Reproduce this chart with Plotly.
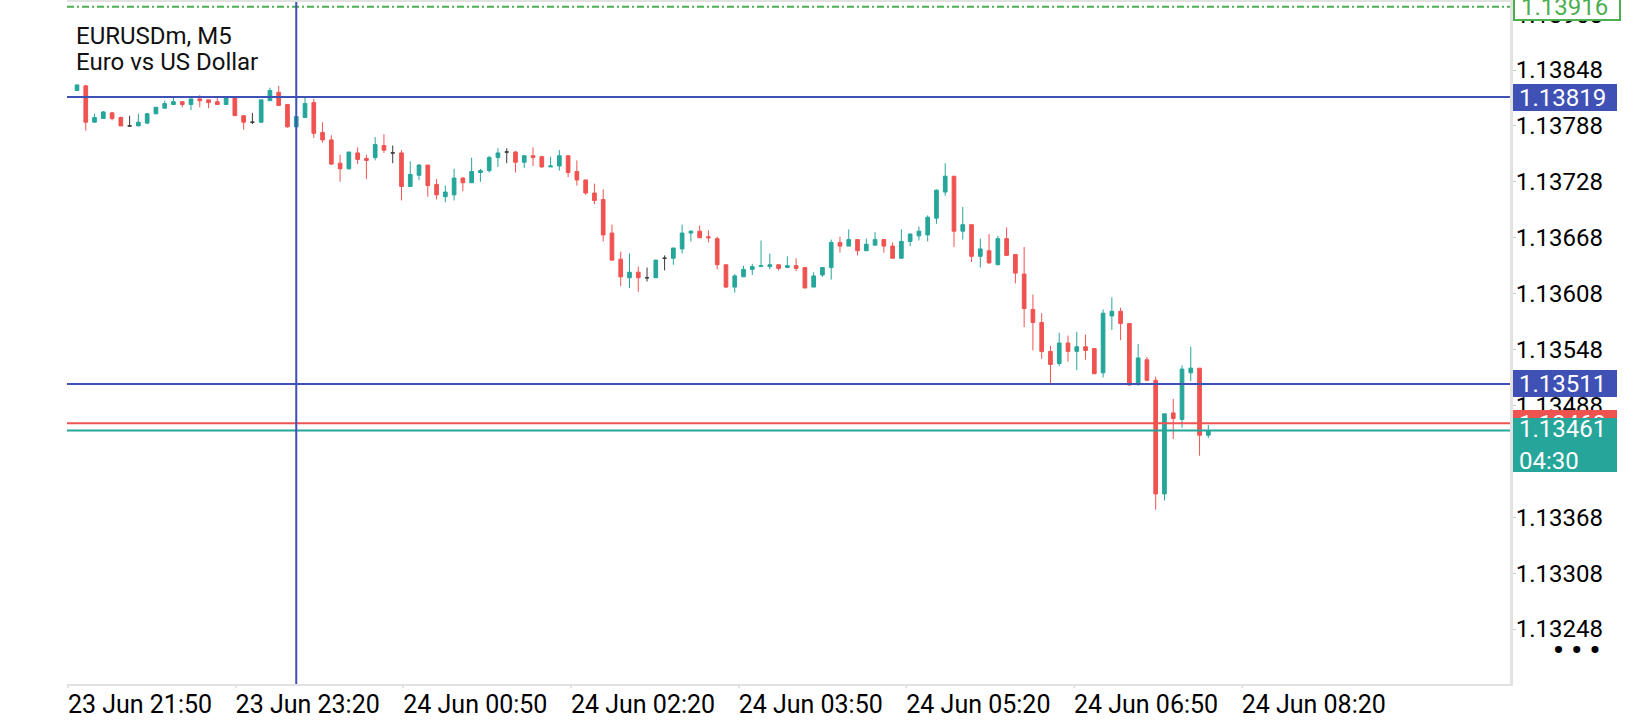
import plotly.graph_objects as go

# ---------------------------------------------------------------------------
# EURUSDm M5 chart (MT5 mobile look)

symbol = "EURUSDm, M5"
description = "Euro vs US Dollar"

open_ = [
    1.13826, 1.13831, 1.13792, 1.13796, 1.13802, 1.13797, 1.13788, 1.13788, 1.13791, 1.13801,
    1.13807, 1.13811, 1.13814, 1.13811, 1.13817, 1.13816, 1.13814, 1.13811, 1.13818, 1.13799,
    1.13792, 1.13792, 1.13815, 1.13824, 1.13811, 1.13787, 1.13797, 1.13813, 1.13781, 1.13773,
    1.13748, 1.13742, 1.13759, 1.13753, 1.13754, 1.13767, 1.13759, 1.13759, 1.13723, 1.13735,
    1.13746, 1.13725, 1.13712, 1.13714, 1.13732, 1.13727, 1.13738, 1.13740, 1.13754, 1.13760,
    1.13760, 1.13749, 1.13756, 1.13755, 1.13744, 1.13745, 1.13756, 1.13739, 1.13730, 1.13716,
    1.13709, 1.13673, 1.13645, 1.13625, 1.13631, 1.13625, 1.13625, 1.13646, 1.13646, 1.13656,
    1.13673, 1.13675, 1.13669, 1.13667, 1.13639, 1.13615, 1.13626, 1.13634, 1.13637, 1.13637,
    1.13639, 1.13636, 1.13638, 1.13636, 1.13615, 1.13628, 1.13636, 1.13663, 1.13659, 1.13666,
    1.13654, 1.13660, 1.13666, 1.13659, 1.13646, 1.13664, 1.13670, 1.13671, 1.13689, 1.13717,
    1.13734, 1.13675, 1.13682, 1.13648, 1.13654, 1.13639, 1.13667, 1.13650, 1.13629, 1.13591,
    1.13577, 1.13546, 1.13533, 1.13555, 1.13546, 1.13551, 1.13549, 1.13523, 1.13584, 1.13589,
    1.13576, 1.13511, 1.13537, 1.13515, 1.13393, 1.13480, 1.13473, 1.13523, 1.13528, 1.13456,
]
high = [
    1.13832, 1.13832, 1.13801, 1.13804, 1.13803, 1.13798, 1.13799, 1.13801, 1.13802, 1.13808,
    1.13815, 1.13819, 1.13814, 1.13817, 1.13821, 1.13816, 1.13819, 1.13819, 1.13818, 1.13799,
    1.13802, 1.13816, 1.13829, 1.13831, 1.13811, 1.13798, 1.13818, 1.13817, 1.13792, 1.13778,
    1.13757, 1.13760, 1.13765, 1.13757, 1.13776, 1.13779, 1.13767, 1.13762, 1.13750, 1.13747,
    1.13746, 1.13731, 1.13724, 1.13742, 1.13733, 1.13754, 1.13742, 1.13756, 1.13764, 1.13764,
    1.13761, 1.13756, 1.13765, 1.13756, 1.13755, 1.13762, 1.13756, 1.13751, 1.13730, 1.13726,
    1.13720, 1.13682, 1.13653, 1.13651, 1.13637, 1.13636, 1.13644, 1.13649, 1.13657, 1.13682,
    1.13676, 1.13681, 1.13676, 1.13669, 1.13639, 1.13629, 1.13638, 1.13640, 1.13665, 1.13651,
    1.13639, 1.13648, 1.13646, 1.13636, 1.13631, 1.13636, 1.13666, 1.13669, 1.13677, 1.13666,
    1.13667, 1.13674, 1.13666, 1.13663, 1.13677, 1.13672, 1.13680, 1.13692, 1.13720, 1.13748,
    1.13734, 1.13701, 1.13682, 1.13667, 1.13672, 1.13670, 1.13679, 1.13650, 1.13658, 1.13607,
    1.13587, 1.13552, 1.13566, 1.13563, 1.13567, 1.13564, 1.13549, 1.13591, 1.13604, 1.13593,
    1.13576, 1.13554, 1.13540, 1.13519, 1.13479, 1.13495, 1.13531, 1.13551, 1.13528, 1.13467,
]
low = [
    1.13826, 1.13783, 1.13792, 1.13796, 1.13794, 1.13788, 1.13787, 1.13788, 1.13790, 1.13801,
    1.13807, 1.13811, 1.13808, 1.13805, 1.13808, 1.13807, 1.13811, 1.13811, 1.13799, 1.13784,
    1.13790, 1.13791, 1.13815, 1.13810, 1.13786, 1.13787, 1.13797, 1.13775, 1.13770, 1.13746,
    1.13728, 1.13741, 1.13747, 1.13731, 1.13751, 1.13759, 1.13748, 1.13708, 1.13723, 1.13730,
    1.13712, 1.13709, 1.13706, 1.13708, 1.13718, 1.13727, 1.13728, 1.13738, 1.13744, 1.13748,
    1.13738, 1.13743, 1.13745, 1.13743, 1.13744, 1.13740, 1.13733, 1.13724, 1.13714, 1.13704,
    1.13664, 1.13643, 1.13616, 1.13614, 1.13610, 1.13621, 1.13625, 1.13633, 1.13639, 1.13651,
    1.13664, 1.13668, 1.13663, 1.13634, 1.13614, 1.13609, 1.13626, 1.13628, 1.13637, 1.13634,
    1.13633, 1.13636, 1.13632, 1.13614, 1.13615, 1.13626, 1.13623, 1.13652, 1.13659, 1.13649,
    1.13654, 1.13660, 1.13652, 1.13646, 1.13646, 1.13659, 1.13665, 1.13664, 1.13683, 1.13713,
    1.13658, 1.13666, 1.13642, 1.13636, 1.13640, 1.13639, 1.13649, 1.13619, 1.13572, 1.13547,
    1.13538, 1.13512, 1.13530, 1.13535, 1.13526, 1.13537, 1.13522, 1.13518, 1.13569, 1.13558,
    1.13509, 1.13509, 1.13514, 1.13376, 1.13386, 1.13452, 1.13464, 1.13514, 1.13434, 1.13453,
]
close = [
    1.13832, 1.13792, 1.13797, 1.13803, 1.13796, 1.13788, 1.13788, 1.13792, 1.13801, 1.13808,
    1.13812, 1.13814, 1.13811, 1.13817, 1.13815, 1.13813, 1.13811, 1.13818, 1.13799, 1.13792,
    1.13792, 1.13816, 1.13826, 1.13810, 1.13787, 1.13798, 1.13812, 1.13780, 1.13773, 1.13747,
    1.13742, 1.13760, 1.13752, 1.13751, 1.13768, 1.13762, 1.13759, 1.13723, 1.13736, 1.13746,
    1.13724, 1.13714, 1.13717, 1.13732, 1.13727, 1.13739, 1.13740, 1.13754, 1.13759, 1.13760,
    1.13749, 1.13756, 1.13754, 1.13744, 1.13745, 1.13756, 1.13738, 1.13730, 1.13716, 1.13708,
    1.13671, 1.13644, 1.13626, 1.13631, 1.13625, 1.13625, 1.13644, 1.13646, 1.13657, 1.13673,
    1.13675, 1.13668, 1.13668, 1.13639, 1.13615, 1.13627, 1.13634, 1.13637, 1.13638, 1.13639,
    1.13635, 1.13638, 1.13635, 1.13614, 1.13627, 1.13636, 1.13663, 1.13659, 1.13666, 1.13654,
    1.13661, 1.13666, 1.13659, 1.13646, 1.13664, 1.13672, 1.13675, 1.13690, 1.13719, 1.13734,
    1.13675, 1.13682, 1.13648, 1.13656, 1.13641, 1.13667, 1.13649, 1.13630, 1.13592, 1.13577,
    1.13546, 1.13532, 1.13555, 1.13546, 1.13551, 1.13547, 1.13522, 1.13587, 1.13589, 1.13576,
    1.13510, 1.13539, 1.13515, 1.13393, 1.13479, 1.13474, 1.13527, 1.13528, 1.13456, 1.13461,
]

time_labels = ["23 Jun 21:50", "23 Jun 23:20", "24 Jun 00:50", "24 Jun 02:20",
               "24 Jun 03:50", "24 Jun 05:20", "24 Jun 06:50", "24 Jun 08:20"]

crosshair_bar = 25
crosshair_price = 1.13819
level_price = 1.13511
ask_price = 1.13469
bid_price = 1.13461
top_level_price = 1.13916
bar_countdown = "04:30"

# ------------------------------------------------------------------------
# Colours and fonts

TEAL = "#26A69A"
RED = "#EF5350"
BLUE = "#3F51B5"
GREEN = "#4CAF50"
DOJI = "#3a3a3a"
BORDER = "#e2e2e2"
FONT = "Roboto"
FSIZE = 24
PAD = "\u00a0"  # small left padding inside the price boxes

bars = list(range(len(close)))
is_doji = [o == c for o, c in zip(open_, close)]


def pick(values, flag):
    return [v for v, d in zip(values, is_doji) if d == flag]


fig = go.Figure()

fig.add_trace(go.Candlestick(
    x=pick(bars, False), open=pick(open_, False), high=pick(high, False),
    low=pick(low, False), close=pick(close, False),
    increasing=dict(line=dict(color=TEAL, width=1), fillcolor=TEAL),
    decreasing=dict(line=dict(color=RED, width=1), fillcolor=RED),
    whiskerwidth=0, showlegend=False, name=symbol
))
fig.add_trace(go.Candlestick(
    x=pick(bars, True), open=pick(open_, True), high=pick(high, True),
    low=pick(low, True), close=pick(close, True),
    increasing=dict(line=dict(color=DOJI, width=1), fillcolor=DOJI),
    decreasing=dict(line=dict(color=DOJI, width=1), fillcolor=DOJI),
    whiskerwidth=0, showlegend=False, name=symbol
))


# Horizontal price lines
def hline(price, color, dash="solid"):
    fig.add_shape(type="line", xref="paper", x0=0, x1=1, yref="y", y0=price, y1=price,
                  line=dict(color=color, width=2, dash=dash), layer="above")


hline(top_level_price, GREEN, dash="7px,3px,2px,3px")
hline(crosshair_price, BLUE)
hline(level_price, BLUE)
hline(ask_price, RED)
hline(bid_price, TEAL)

# Vertical crosshair
fig.add_shape(type="line", xref="x", x0=crosshair_bar, x1=crosshair_bar, yref="paper", y0=0, y1=1,
              line=dict(color=BLUE, width=2), layer="above")


# Price labels on the right scale
def price_box(text, price, bg, fg="white", border=None, height=27, yanchor="middle", yshift=0):
    fig.add_annotation(text=text, xref="paper", x=1, xanchor="left", xshift=3,
                       yref="y", y=price, yanchor=yanchor, yshift=yshift,
                       showarrow=False, width=104, height=height, align="left",
                       bgcolor=bg, bordercolor=border or bg, borderwidth=2 if border else 0,
                       borderpad=0, font=dict(family=FONT, size=FSIZE, color=fg))


price_box(PAD + f"{top_level_price:.5f}", top_level_price, "white", fg=GREEN, border=GREEN, height=24)
price_box(PAD + f"{crosshair_price:.5f}", crosshair_price, BLUE)
price_box(PAD + f"{level_price:.5f}", level_price, BLUE)
price_box(PAD + f"{ask_price:.5f}", ask_price, RED)
price_box(PAD + f"{bid_price:.5f}<br>" + PAD + bar_countdown, bid_price, TEAL, height=54,
          yanchor="top", yshift=13)

# Symbol caption (two lines)
for line_text, shift in [(symbol, -34), (description, -60)]:
    fig.add_annotation(text=line_text, xref="paper", x=0, xanchor="left", xshift=7,
                       yref="paper", y=1, yanchor="middle", yshift=shift, showarrow=False,
                       align="left", font=dict(family=FONT, size=FSIZE, color="#111111"))

# Menu dots bottom right
fig.add_annotation(text="<b>\u2022 \u2022 \u2022</b>", xref="paper", x=1, xanchor="center", xshift=66,
                   yref="paper", y=0, yanchor="middle", yshift=35, showarrow=False,
                   font=dict(family=FONT, size=30, color="#000000"))

# Time axis ticks (bar units)
tick_first = -1.03
tick_step = 19.12
tick_pos = [tick_first + k * tick_step for k in range(len(time_labels))]

fig.update_layout(
    width=1640, height=720, autosize=False,
    margin=dict(l=67, r=130, t=0, b=36),
    paper_bgcolor="white", plot_bgcolor="white",
    font=dict(family=FONT, size=FSIZE, color="#000000"),
    boxgap=0.4, boxgroupgap=0.3,
    showlegend=False,
    xaxis=dict(
        range=[-1.14, 163.4], rangeslider=dict(visible=False),
        showgrid=False, zeroline=False,
        showline=True, linecolor=BORDER, linewidth=2, mirror=True,
        ticks="outside", ticklen=2, tickcolor=BORDER, tickwidth=2,
        tickvals=tick_pos, ticktext=time_labels, ticklabelshift=72, ticklabelstandoff=-5,
        tickfont=dict(family=FONT, size=25, color="#000000"),
    ),
    yaxis=dict(
        side="right", range=[1.13189, 1.13921],
        tick0=1.13848, dtick=0.0006, tickformat=".5f",
        showgrid=False, zeroline=False,
        showline=True, linecolor=BORDER, linewidth=3,
        ticks="outside", ticklen=3, tickcolor="#c8c8c8", ticklabelstandoff=-5,
        tickfont=dict(family=FONT, size=FSIZE, color="#000000"),
    ),
)

fig.write_html("out.html", config={"displayModeBar": False},
               post_script="document.body.style.margin='0px';document.body.style.overflow='hidden';")
